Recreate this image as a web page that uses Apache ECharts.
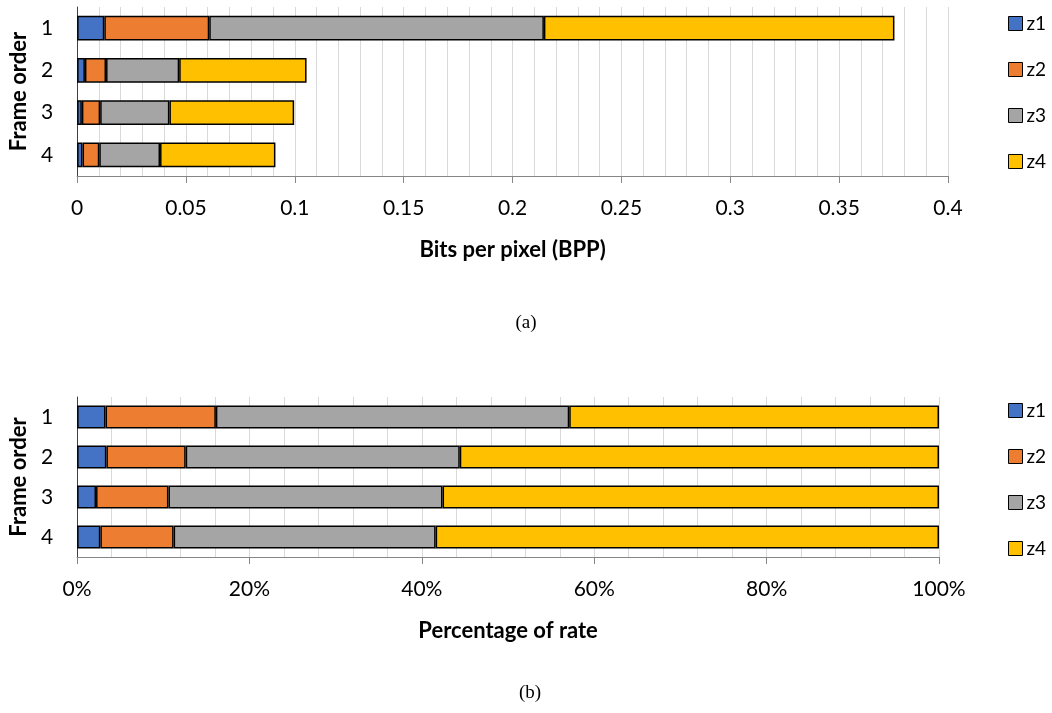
<!DOCTYPE html>
<html>
<head>
<meta charset="utf-8">
<script src="https://cdn.jsdelivr.net/npm/echarts@6/dist/echarts.min.js"></script>
<style>
  html, body { margin: 0; padding: 0; background: #fff; }
  #chart { width: 1052px; height: 713px; }
</style>
</head>
<body>
<div id="chart"></div>
<script>
// Frame order categories
const frames = ['1', '2', '3', '4'];
const layerNames = ['z1', 'z2', 'z3', 'z4'];

// (a) bits per pixel spent on each layer, per frame
const bppZ1 = [0.0125, 0.0036, 0.0022, 0.0025];
const bppZ2 = [0.0482, 0.0097, 0.0084, 0.0077];
const bppZ3 = [0.1537, 0.0336, 0.0318, 0.0279];
const bppZ4 = [0.1610, 0.0585, 0.0573, 0.0530];

// (b) share of the frame's rate taken by each layer, in percent
const pctZ1 = [3.3, 3.4, 2.2, 2.7];
const pctZ2 = [12.8, 9.2, 8.4, 8.5];
const pctZ3 = [41.0, 31.8, 31.8, 30.4];
const pctZ4 = [42.9, 55.6, 57.6, 58.4];

const colors = ['#4472C4', '#ED7D31', '#A5A5A5', '#FFC000'];
const FONT = 'Lato, "Open Sans", sans-serif';
const SERIF = '"Liberation Serif", "DejaVu Serif", serif';

const chart = echarts.init(document.getElementById('chart'), null, { renderer: 'canvas' });

function valueAxis(gridIndex, min, max, interval, fmt, name) {
  return {
    type: 'value', gridIndex, min, max, interval,
    name, nameLocation: 'middle', nameGap: 63,
    nameTextStyle: { fontFamily: FONT, fontSize: 22, fontWeight: 'bold', color: '#000' },
    axisLine: { show: true, lineStyle: { color: '#868686', width: 1 } },
    axisTick: { show: true, length: 7, lineStyle: { color: '#868686' } },
    axisLabel: { fontFamily: FONT, fontSize: 21, color: '#000', margin: 22, formatter: fmt },
    splitLine: { show: true, lineStyle: { color: '#d9d9d9', width: 1 } },
    minorTick: { show: false, splitNumber: 5 },
    minorSplitLine: { show: true, lineStyle: { color: '#d9d9d9', width: 1 } }
  };
}

function catAxis(gridIndex, gap) {
  return {
    type: 'category', gridIndex, data: frames, inverse: true,
    name: 'Frame order', nameLocation: 'middle', nameRotate: 90, nameGap: gap,
    nameTextStyle: { fontFamily: FONT, fontSize: 22, fontWeight: 'bold', color: '#000' },
    axisLine: { show: true, lineStyle: { color: '#404040', width: 1 } },
    axisTick: { show: false },
    axisLabel: { fontFamily: FONT, fontSize: 21, color: '#000', margin: 24 }
  };
}

function stackSeries(values, idx, axisIdx, stack) {
  return {
    name: layerNames[idx], type: 'bar', stack,
    xAxisIndex: axisIdx, yAxisIndex: axisIdx,
    data: values, barCategoryGap: '42%',
    itemStyle: { color: colors[idx], borderColor: '#000', borderWidth: 1.5 },
    emphasis: { disabled: true },
    animation: false
  };
}

function legend(top) {
  return {
    orient: 'vertical', left: 1003, top,
    itemWidth: 14, itemHeight: 14, itemGap: 27,
    icon: 'rect',
    data: layerNames,
    selectedMode: false,
    itemStyle: { borderColor: '#000', borderWidth: 1 },
    textStyle: { fontFamily: FONT, fontSize: 19, color: '#000', padding: [0, 0, 0, -1] }
  };
}

const option = {
  backgroundColor: '#fff',
  animation: false,
  color: colors,
  title: [
    { text: '(a)', left: 521, top: 309, textAlign: 'center',
      textStyle: { fontFamily: SERIF, fontSize: 19, fontWeight: 'normal', color: '#000' } },
    { text: '(b)', left: 525, top: 679, textAlign: 'center',
      textStyle: { fontFamily: SERIF, fontSize: 19, fontWeight: 'normal', color: '#000' } }
  ],
  legend: [legend(9), legend(396)],
  grid: [
    { left: 77, right: 104, top: 7, height: 169 },
    { left: 73, right: 113, top: 397, height: 160 }
  ],
  xAxis: [
    valueAxis(0, 0, 0.4, 0.05, null, 'Bits per pixel (BPP)'),
    valueAxis(1, 0, 100, 20, '{value}%', 'Percentage of rate')
  ],
  yAxis: [catAxis(0, 46), catAxis(1, 44)],
  series: [
    stackSeries(bppZ1, 0, 0, 'bpp'),
    stackSeries(bppZ2, 1, 0, 'bpp'),
    stackSeries(bppZ3, 2, 0, 'bpp'),
    stackSeries(bppZ4, 3, 0, 'bpp'),
    stackSeries(pctZ1, 0, 1, 'pct'),
    stackSeries(pctZ2, 1, 1, 'pct'),
    stackSeries(pctZ3, 2, 1, 'pct'),
    stackSeries(pctZ4, 3, 1, 'pct')
  ]
};

chart.setOption(option);
</script>
</body>
</html>
